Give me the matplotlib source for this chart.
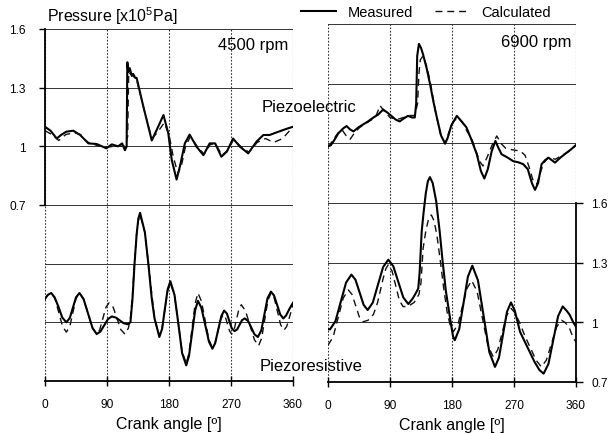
import matplotlib
matplotlib.use('Agg')
import matplotlib.pyplot as plt

plt.rcParams['font.family'] = ['Liberation Sans', 'DejaVu Sans']
plt.rcParams['mathtext.fontset'] = 'custom'
plt.rcParams['mathtext.rm'] = 'Liberation Sans'
plt.rcParams['mathtext.it'] = 'Liberation Sans:italic'
plt.rcParams['mathtext.bf'] = 'Liberation Sans:bold'

# ---------------- data ----------------
# 4500 rpm, piezoelectric (upper, left scale)
ang_e45_meas = [0, 8, 17, 24, 31, 41, 51, 63, 75, 89, 97, 106, 112, 116, 118.5, 119.5, 121, 123, 126, 128,
                131, 133, 143, 155, 162, 172, 179, 184, 191, 196, 203, 210, 220, 230, 239, 247, 256, 264,
                273, 283, 295, 307, 317, 326, 339, 351, 360]
val_e45_meas = [1.10, 1.08, 1.04, 1.06, 1.075, 1.08, 1.058, 1.015, 1.012, 0.99, 1.01, 1.00, 1.015, 0.98, 1.00,
                1.43, 1.38, 1.40, 1.36, 1.37, 1.35, 1.35, 1.20, 1.03, 1.083, 1.16, 1.066, 0.93, 0.83, 0.90,
                1.015, 1.06, 0.998, 0.955, 1.015, 1.015, 0.947, 0.973, 1.04, 0.998, 0.964, 1.024, 1.058,
                1.058, 1.075, 1.09, 1.10]
ang_e45_calc = [0, 10, 20, 30, 42, 52, 56, 63, 75, 88, 100, 110, 117, 120, 121.5, 124, 128, 133, 143, 155,
                163, 173, 180, 186, 193, 198, 204, 211, 221, 231, 240, 248, 257, 265, 274, 284, 296, 308,
                320, 332, 345, 360]
val_e45_calc = [1.08, 1.06, 1.03, 1.06, 1.07, 1.06, 1.04, 1.02, 1.005, 0.995, 1.0, 1.0, 1.005, 1.05, 1.38,
                1.37, 1.36, 1.34, 1.20, 1.04, 1.07, 1.12, 1.06, 0.95, 0.86, 0.90, 1.00, 1.05, 1.0, 0.96,
                1.01, 1.01, 0.955, 0.98, 1.035, 1.0, 0.97, 1.02, 1.04, 1.02, 1.04, 1.10]

# 4500 rpm, piezoresistive (lower, right scale)
ang_r45_meas = [0, 4, 9, 14, 20, 25, 31, 36, 40.5, 45, 50, 56, 62.5, 69, 75, 80.5, 86, 91.5, 97, 103, 108.5,
                114, 120, 124, 127, 130, 133, 135.5, 138, 145, 150, 155, 159, 166, 170, 174, 178, 182, 188,
                193.5, 199, 205, 209, 213.5, 218, 222, 227, 232.5, 238, 243, 247, 251.5, 256, 260, 264,
                267.5, 271, 275, 279, 282.5, 286, 290, 295, 299.5, 304, 309, 314, 318.5, 323, 328, 332.5,
                337, 341.5, 346, 350, 355, 360]
val_r45_meas = [1.12, 1.14, 1.15, 1.128, 1.075, 1.025, 1.00, 1.022, 1.075, 1.128, 1.15, 1.119, 1.045, 0.971,
                0.94, 0.953, 0.985, 1.017, 1.03, 1.024, 1.01, 0.996, 0.99, 1.00, 1.12, 1.30, 1.45, 1.53,
                1.56, 1.46, 1.30, 1.12, 1.02, 0.925, 0.967, 1.068, 1.168, 1.21, 1.14, 0.995, 0.843, 0.78,
                0.828, 0.945, 1.062, 1.11, 1.074, 0.988, 0.901, 0.865, 0.893, 0.963, 1.032, 1.06, 1.045,
                1.008, 0.97, 0.955, 0.964, 0.988, 1.011, 1.02, 1.006, 0.973, 0.939, 0.925, 0.959, 1.041,
                1.123, 1.157, 1.137, 1.089, 1.04, 1.02, 1.035, 1.07, 1.10]
ang_r45_calc = [0, 4, 9, 14.5, 20, 25.5, 31, 36, 40.5, 45, 50, 56, 62.5, 69, 75, 79.5, 84, 88.5, 93, 99,
                104.5, 110, 116, 121, 124, 127, 130, 133, 135.5, 138, 145, 152, 159, 166, 170, 174, 178,
                182, 188, 193.5, 199, 205, 209, 213.5, 218, 222, 227, 232.5, 238, 243, 247, 251, 255, 259,
                262, 265, 268, 271, 274.5, 278, 281.5, 285, 291, 297.5, 304, 310, 314.5, 319, 323.5, 328,
                333, 337.5, 342, 347, 351, 356, 360]
val_r45_calc = [1.12, 1.14, 1.15, 1.121, 1.05, 0.979, 0.95, 0.979, 1.05, 1.121, 1.15, 1.119, 1.045, 0.971,
                0.94, 0.963, 1.02, 1.077, 1.10, 1.077, 1.02, 0.963, 0.94, 0.97, 1.02, 1.14, 1.31, 1.45,
                1.52, 1.55, 1.459, 1.24, 1.02, 0.93, 0.969, 1.065, 1.161, 1.20, 1.14, 0.995, 0.85, 0.79,
                0.843, 0.97, 1.097, 1.15, 1.109, 1.01, 0.911, 0.87, 0.895, 0.955, 1.015, 1.04, 1.025, 0.99,
                0.955, 0.94, 0.962, 1.015, 1.068, 1.09, 1.059, 0.985, 0.911, 0.88, 0.919, 1.015, 1.111,
                1.15, 1.122, 1.055, 0.988, 0.96, 0.98, 1.04, 1.09]

# 6900 rpm, piezoelectric (upper, left scale)
ang_e69_meas = [0, 4, 8, 15, 22, 27, 32, 37, 44, 51, 58, 66, 73, 80, 86, 92, 98, 104, 110, 116, 122, 126,
                128, 129.5, 132, 135, 138, 143, 148, 153, 158, 164, 170, 174, 179, 187, 194, 201, 208, 216,
                222, 227, 232, 237.6, 243, 247, 252, 260, 269, 276, 283.5, 290, 296, 300.5, 305, 310, 315,
                320, 325, 329.5, 338, 346.5, 353, 360]
val_e69_meas = [0.985, 0.99, 1.01, 1.05, 1.075, 1.087, 1.07, 1.06, 1.08, 1.095, 1.11, 1.13, 1.145, 1.17,
                1.155, 1.138, 1.12, 1.11, 1.125, 1.138, 1.13, 1.13, 1.20, 1.44, 1.50, 1.48, 1.447, 1.38,
                1.30, 1.21, 1.13, 1.04, 0.998, 1.03, 1.09, 1.138, 1.11, 1.08, 1.02, 0.945, 0.86, 0.823,
                0.87, 0.96, 1.012, 0.98, 0.945, 0.93, 0.91, 0.905, 0.895, 0.87, 0.80, 0.766, 0.80, 0.895,
                0.915, 0.928, 0.915, 0.903, 0.93, 0.953, 0.97, 0.992]
ang_e69_calc = [0, 6, 14, 20, 26, 32, 38, 46, 55, 64, 70, 75.5, 82, 90, 100, 110, 118, 126, 130, 132, 134,
                138, 144, 150, 156, 163, 170, 176, 182, 189, 196, 202, 209, 215, 220, 225, 231, 238, 245,
                251, 258, 264, 272, 279, 286, 292, 298, 303, 308, 313, 320, 330, 340, 350, 360]
val_e69_calc = [0.98, 1.01, 1.05, 1.07, 1.04, 1.02, 1.05, 1.08, 1.10, 1.12, 1.14, 1.19, 1.16, 1.13, 1.12,
                1.13, 1.14, 1.14, 1.20, 1.35, 1.42, 1.44, 1.38, 1.28, 1.16, 1.05, 1.0, 1.06, 1.11, 1.13,
                1.10, 1.06, 1.02, 0.96, 0.91, 0.886, 0.93, 0.99, 1.037, 1.0, 0.975, 0.97, 0.965, 0.962,
                0.94, 0.88, 0.81, 0.794, 0.85, 0.90, 0.93, 0.92, 0.94, 0.96, 0.99]

# 6900 rpm, piezoresistive (lower, right scale)
ang_r69_meas = [0, 3, 10.75, 18.5, 26.25, 34, 39.9, 45.8, 51.7, 57.6, 65, 72.5, 80, 87.5, 94.8, 102, 109.3,
                116.6, 123, 128, 131, 133, 136, 139, 142, 145, 148, 152, 157, 162, 166, 171, 175, 179, 181.5,
                184, 190.4, 196.75, 203.1, 209.5, 217.7, 226, 234.2, 242.4, 248.2, 254, 259.8, 265.6, 271,
                278.7, 286, 293, 300, 307, 313, 320, 327, 334, 340.7, 346, 351, 356, 360]
val_r69_meas = [0.965, 0.965, 1.005, 1.103, 1.20, 1.24, 1.214, 1.151, 1.088, 1.062, 1.099, 1.189, 1.278, 1.315,
                1.282, 1.204, 1.125, 1.092, 1.12, 1.15, 1.17, 1.25, 1.457, 1.56, 1.65, 1.71, 1.73, 1.70, 1.61,
                1.46, 1.32, 1.16, 1.07, 0.98, 0.93, 0.91, 0.965, 1.097, 1.23, 1.285, 1.211, 1.03, 0.85,
                0.776, 0.823, 0.938, 1.053, 1.10, 1.06, 0.953, 0.90, 0.85, 0.80, 0.76, 0.742, 0.791, 0.911,
                1.031, 1.08, 1.06, 1.037, 1.00, 0.978]
ang_r69_calc = [0, 7.4, 14.75, 22.1, 29.5, 34.9, 40.25, 45.6, 51, 58, 66, 72, 80, 84, 87.5, 92.9, 98.25,
                103.6, 109, 116, 125, 132, 135, 138, 142, 146, 150, 154, 158, 163, 168, 173, 177, 182, 188.65,
                195.3, 201.95, 208.6, 216.5, 224.3, 232.2, 240, 246.4, 252.8, 259.2, 265.6, 271, 278, 286,
                294, 302, 309.7, 317, 324.4, 331.7, 339, 344, 350, 355, 360]
val_r69_calc = [0.885, 0.926, 1.024, 1.122, 1.163, 1.14, 1.083, 1.026, 1.003, 1.01, 1.04, 1.10, 1.22, 1.27,
                1.29, 1.259, 1.185, 1.11, 1.079, 1.08, 1.10, 1.14, 1.20, 1.37, 1.46, 1.52, 1.54, 1.51, 1.44,
                1.31, 1.17, 1.05, 0.99, 0.953, 0.99, 1.082, 1.172, 1.21, 1.154, 1.018, 0.882, 0.826, 0.862,
                0.948, 1.034, 1.07, 1.05, 1.0, 0.93, 0.87, 0.81, 0.776, 0.81, 0.893, 0.976, 1.01, 1.0, 0.975,
                0.93, 0.90]

x_ticks = [0, 90, 180, 270, 360]
x_ticklabels = ['0', '90', '180', '270', '360']
y_ticks = [0.7, 1.0, 1.3, 1.6]
y_ticklabels = ['0.7', '1', '1.3', '1.6']
speed_labels = ['4500 rpm', '6900 rpm']

# ---------------- figure ----------------
W, H = 613, 435
fig = plt.figure(figsize=(W / 100, H / 100), dpi=100)
axL = fig.add_axes([45 / W, 53 / H, 248 / W, 352 / H])
axR = fig.add_axes([328 / W, 52 / H, 248 / W, 358 / H])

SOLID = dict(color='black', lw=1.5, solid_joinstyle='round')
DASH = dict(color='#111111', lw=1.0, ls=(0, (5, 3.5)))
HGRID = dict(color='#333333', lw=0.7, ls='-')
VGRID = dict(color='#333333', lw=0.8, ls=(0, (1.5, 1.5)))


def setup(ax, left_labels, right_labels):
    ax2 = ax.twinx()
    ax.set_xlim(0, 360)
    ax.set_ylim(-0.2, 1.6)
    ax2.set_ylim(0.7, 2.5)
    ax.set_xticks(x_ticks)
    ax.set_xticklabels(x_ticklabels)
    ax.tick_params(axis='x', direction='inout', length=7, width=1.0, labelsize=8.6, pad=9)
    ax.set_yticks(y_ticks)
    ax2.set_yticks(y_ticks)
    for lv in y_ticks:
        ax.axhline(lv, zorder=0.5, **HGRID)
    for lv in y_ticks[1:3]:
        ax2.axhline(lv, zorder=0.5, **HGRID)
    for xv in x_ticks:
        ax.axvline(xv, zorder=0.5, **VGRID)
    for sp in ['top', 'right', 'left']:
        ax.spines[sp].set_visible(False)
    for sp in ['top', 'left', 'bottom', 'right']:
        ax2.spines[sp].set_visible(False)
    ax.spines['bottom'].set_linewidth(1.3)
    if left_labels:
        ax.spines['left'].set_visible(True)
        ax.spines['left'].set_linewidth(1.3)
        ax.spines['left'].set_bounds(0.7, 1.6)
        ax.set_yticklabels(y_ticklabels)
        ax.tick_params(axis='y', direction='out', length=4, width=1.0, labelsize=8.6, pad=10)
    else:
        ax.tick_params(axis='y', length=0, labelleft=False)
    if right_labels:
        ax2.spines['right'].set_visible(True)
        ax2.spines['right'].set_linewidth(1.3)
        ax2.spines['right'].set_bounds(0.7, 1.6)
        ax2.set_yticklabels(y_ticklabels)
        ax2.tick_params(axis='y', direction='out', length=5, width=1.0, labelsize=8.6, pad=6)
    else:
        ax2.tick_params(axis='y', length=0, labelright=False)
    ax.set_xlabel('Crank angle [º]', fontsize=11.5, labelpad=4)
    return ax2


axL2 = setup(axL, True, False)
axR2 = setup(axR, False, True)

lm, = axL.plot(ang_e45_meas, val_e45_meas, **SOLID)
lc, = axL.plot(ang_e45_calc, val_e45_calc, **DASH)
axL2.plot(ang_r45_calc, val_r45_calc, **DASH)
axL2.plot(ang_r45_meas, val_r45_meas, **SOLID)

axR.plot(ang_e69_calc, val_e69_calc, **DASH)
axR.plot(ang_e69_meas, val_e69_meas, **SOLID)
axR2.plot(ang_r69_calc, val_r69_calc, **DASH)
axR2.plot(ang_r69_meas, val_r69_meas, **SOLID)

axL.text(0.98, 0.955, speed_labels[0], transform=axL.transAxes, ha='right', va='center', fontsize=12)
axR.text(0.98, 0.95, speed_labels[1], transform=axR.transAxes, ha='right', va='center', fontsize=12)

fig.text(47 / W, 1 - 16 / H, 'Pressure [x10$^{5}$Pa]', ha='left', va='center', fontsize=11.5)
fig.text(309 / W, 1 - 107 / H, 'Piezoelectric', ha='center', va='center', fontsize=12)
fig.text(311 / W, 1 - 367 / H, 'Piezoresistive', ha='center', va='center', fontsize=12)

fig.legend(handles=[lm, lc], labels=['Measured', 'Calculated'], ncol=2, loc='center',
           bbox_to_anchor=(426 / W, 1 - 13 / H), frameon=False, fontsize=10.5,
           handlelength=2.4, handletextpad=0.8, columnspacing=1.5, borderpad=0, borderaxespad=0)

fig.savefig('out.png', dpi=100)
